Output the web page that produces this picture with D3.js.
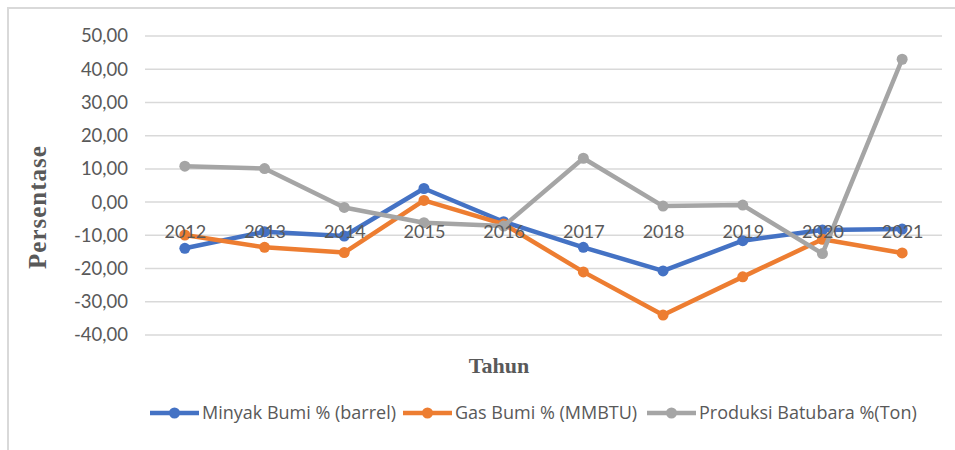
<!DOCTYPE html>
<html>
<head>
<meta charset="utf-8">
<script src="https://cdn.jsdelivr.net/npm/d3@7"></script>
<style>
  body { margin: 0; background: #fff; }
  svg { display: block; }
</style>
</head>
<body>
<script>
var years   = ['2012','2013','2014','2015','2016','2017','2018','2019','2020','2021'];
var minyak  = [-13.9,  -8.9, -10.2,   4.1,  -5.9, -13.6, -20.7, -11.6,  -8.4,  -8.1];
var gas     = [ -9.9, -13.6, -15.2,   0.5,  -6.6, -21.0, -34.0, -22.5, -11.2, -15.3];
var batubara= [ 10.8,  10.1,  -1.6,  -6.2,  -7.2,  13.2,  -1.2,  -0.9, -15.5,  43.0];
var yTicks  = [50, 40, 30, 20, 10, 0, -10, -20, -30, -40];

var series = [
  { name: 'Minyak Bumi % (barrel)',   values: minyak,   color: '#4472C4' },
  { name: 'Gas Bumi % (MMBTU)',       values: gas,      color: '#ED7D31' },
  { name: 'Produksi Batubara %(Ton)', values: batubara, color: '#A5A5A5' }
];

var width  = 955;
var height = 450;
var font   = 'Lato, "Open Sans", sans-serif';
var serif  = '"Liberation Serif", "Times New Roman", serif';

var svg = d3.select('body').append('svg')
            .attr('width', width)
            .attr('height', height);

// chart border
svg.append('rect')
   .attr('x', 8).attr('y', 8)
   .attr('width', 970).attr('height', 470)
   .attr('fill', '#fff')
   .attr('stroke', '#d9d9d9')
   .attr('stroke-width', 2);

var x = d3.scalePoint().domain(years).range([145, 942]).padding(0.5);
var y = d3.scaleLinear().domain([-40, 50]).range([335, 36]);

var locale = d3.formatLocale({ decimal: ',', thousands: '.', grouping: [3], currency: ['', ''], minus: '-' });
var fmt = locale.format('.2f');

// gridlines
svg.append('g')
   .selectAll('line')
   .data(yTicks)
   .enter()
   .append('line')
   .attr('x1', 145).attr('x2', 942)
   .attr('y1', function(d){ return y(d); })
   .attr('y2', function(d){ return y(d); })
   .attr('stroke', '#d9d9d9')
   .attr('stroke-width', 1.5);

// y axis
var yAxis = svg.append('g')
   .attr('transform', 'translate(128,0)')
   .call(d3.axisLeft(y).tickValues(yTicks).tickFormat(fmt).tickSize(0).tickPadding(0));
yAxis.select('.domain').remove();
yAxis.selectAll('text')
     .attr('font-family', font)
     .attr('font-size', '18.5px')
     .attr('fill', '#595959');

// lines
var line = d3.line()
             .x(function(d, i){ return x(years[i]); })
             .y(function(d){ return y(d); });

series.forEach(function(s){
  var g = svg.append('g');
  g.append('path')
   .attr('d', line(s.values))
   .attr('fill', 'none')
   .attr('stroke', s.color)
   .attr('stroke-width', 4.5)
   .attr('stroke-linejoin', 'round');
  g.selectAll('circle')
   .data(s.values)
   .enter()
   .append('circle')
   .attr('cx', function(d, i){ return x(years[i]); })
   .attr('cy', function(d){ return y(d); })
   .attr('r', 5.5)
   .attr('fill', s.color);
});

// x axis labels at zero line
var xAxis = svg.append('g')
   .attr('transform', 'translate(0,' + y(0) + ')')
   .call(d3.axisBottom(x).tickSize(0));
xAxis.select('.domain').remove();
xAxis.selectAll('text')
     .attr('y', 36)
     .attr('dy', 0)
     .attr('font-family', font)
     .attr('font-size', '18px')
     .attr('fill', '#595959');

// axis titles
svg.append('text')
   .attr('transform', 'translate(46,207) rotate(-90)')
   .attr('text-anchor', 'middle')
   .attr('font-family', serif)
   .attr('font-weight', 'bold')
   .attr('font-size', '25px')
   .attr('letter-spacing', '1px')
   .attr('fill', '#595959')
   .text('Persentase');

svg.append('text')
   .attr('x', 499).attr('y', 373)
   .attr('text-anchor', 'middle')
   .attr('font-family', serif)
   .attr('font-weight', 'bold')
   .attr('font-size', '22px')
   .attr('fill', '#595959')
   .text('Tahun');

// legend
var legendX = [150, 403, 647];
var legend = svg.selectAll('.legend')
                .data(series)
                .enter()
                .append('g')
                .attr('transform', function(d, i){ return 'translate(' + legendX[i] + ',413)'; });
legend.append('line')
      .attr('x1', 0).attr('x2', 49)
      .attr('stroke', function(d){ return d.color; })
      .attr('stroke-width', 4.5);
legend.append('circle')
      .attr('cx', 24.5).attr('r', 5.5)
      .attr('fill', function(d){ return d.color; });
legend.append('text')
      .attr('x', 52).attr('y', 6)
      .attr('font-family', '"Open Sans", Lato, sans-serif')
      .attr('font-size', '18px')
      .attr('fill', '#595959')
      .text(function(d){ return d.name; });
</script>
</body>
</html>
